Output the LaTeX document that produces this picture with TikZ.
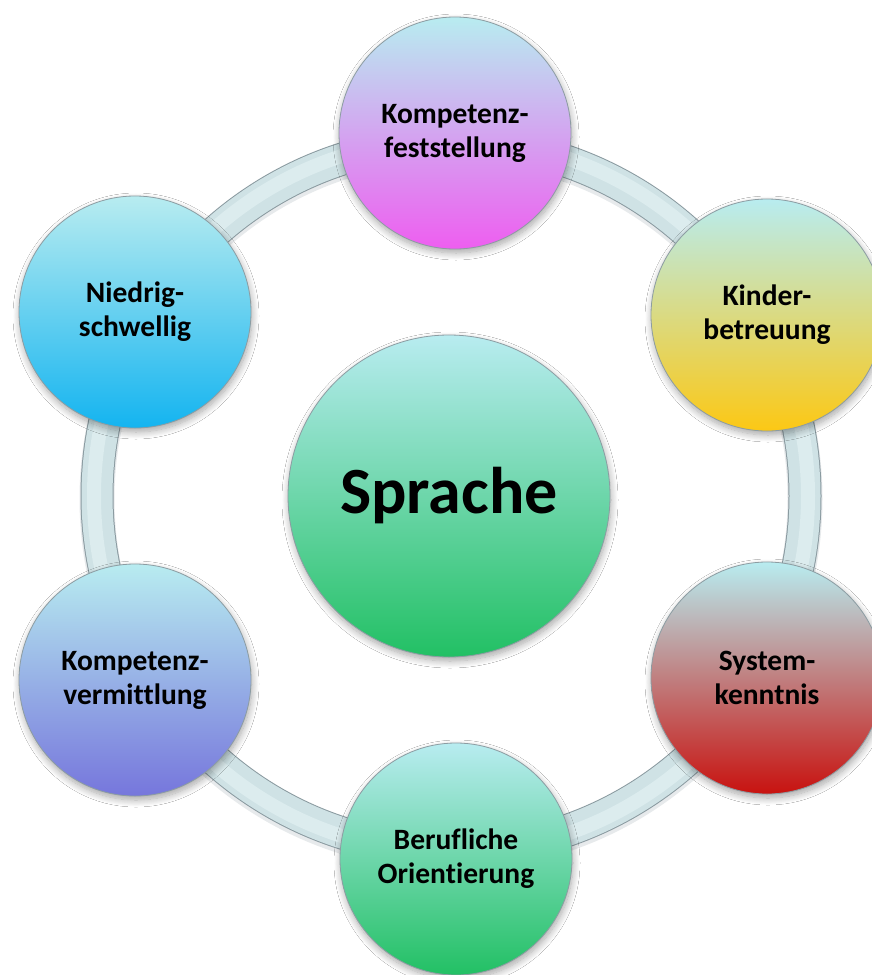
\documentclass[tikz,border=0pt]{standalone}
\usepackage{fontspec}
\setmainfont{Carlito}[Ligatures={NoCommon}]
\usetikzlibrary{shadows.blur}

\definecolor{capcyan}{HTML}{B8ECF0}
\definecolor{rimgray}{HTML}{8C9CA2}
\definecolor{tubeedge}{HTML}{8A9AA0}
\definecolor{tubebody}{HTML}{CFE2E5}
\definecolor{tubelight}{HTML}{DCECEE}
\definecolor{cmagenta}{HTML}{EE5EF0}
\definecolor{cyellow}{HTML}{FCC814}
\definecolor{cred}{HTML}{C8120F}
\definecolor{cgreen}{HTML}{22C064}
\definecolor{cviolet}{HTML}{7676DC}
\definecolor{csky}{HTML}{14B4F0}

\tikzset{
  softshadow/.style={blur shadow={shadow xshift=1pt, shadow yshift=-4pt,
      shadow blur steps=10, shadow blur radius=7pt, shadow opacity=35}},
  bubble/.style={circle, minimum size=232pt, inner sep=0pt, align=center,
      font=\bfseries\fontsize{29.5}{34}\selectfont, text=black,
      draw=rimgray, line width=0.8pt,
      top color=capcyan, bottom color=#1, middle color=capcyan!50!#1,
      softshadow},
  core/.style={bubble=#1, minimum size=322pt,
      font=\bfseries\fontsize{66}{74}\selectfont},
}

\begin{document}
\begin{tikzpicture}[x=1pt, y=-1pt]
  \useasboundingbox (0,0) rectangle (872,975);
  \fill[white] (0,0) rectangle (872,975);

  % ring that links the outer topics
  \coordinate (hub) at (451,496);
  \draw[tubeedge, line width=35pt, opacity=0.2] ([yshift=-3pt]hub) circle[radius=354];
  \draw[tubeedge, line width=33pt] (hub) circle[radius=354];
  \draw[tubebody, line width=31pt] (hub) circle[radius=354];
  \draw[tubelight, line width=14pt] (hub) circle[radius=357];

  % central topic
  \node[core=cgreen] (sprache) at (449,496) {Sprache};

  % outer topics
  \node[bubble=cmagenta] (feststellung) at (455,133) {Kompetenz-\\feststellung};
  \node[bubble=cyellow]  (kinder)       at (767,315) {Kinder-\\betreuung};
  \node[bubble=cred]     (system)       at (767,678) {System-\\kenntnis};
  \node[bubble=cgreen]   (beruf)        at (456,859) {Berufliche\\Orientierung};
  \node[bubble=cviolet]  (vermittlung)  at (135,680) {Kompetenz-\\vermittlung};
  \node[bubble=csky]     (niedrig)      at (135,312) {Niedrig-\\schwellig};
\end{tikzpicture}
\end{document}
